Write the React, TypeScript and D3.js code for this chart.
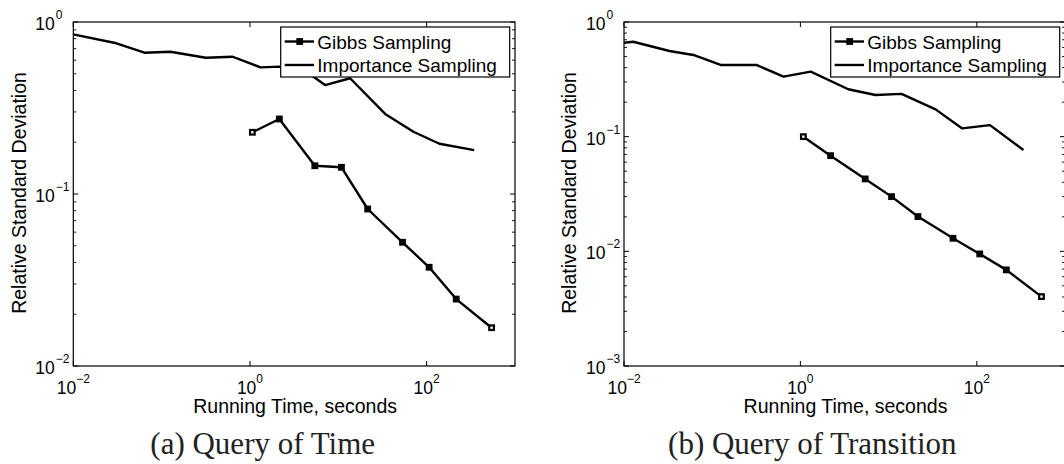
import React from "react";
import * as d3 from "d3";

// ---- Data ----
const leftImpX = [0.01, 0.0308, 0.0638, 0.1256, 0.316, 0.638, 1.315, 2.19, 4.55, 7.08, 13.6, 33.9, 70.8, 139.6, 345];
const leftImpY = [0.848, 0.752, 0.663, 0.672, 0.62, 0.628, 0.545, 0.55, 0.505, 0.43, 0.471, 0.292, 0.23, 0.196, 0.18];
const leftGibbsX = [1.064, 2.15, 5.42, 10.85, 21.5, 53.3, 106.7, 216, 543];
const leftGibbsY = [0.2285, 0.273, 0.146, 0.143, 0.0818, 0.0524, 0.0375, 0.0245, 0.0167];

const rightImpX = [0.01, 0.0127, 0.0328, 0.0612, 0.1245, 0.317, 0.644, 1.31, 3.49, 7.09, 14.0, 34.1, 68.3, 141, 338];
const rightImpY = [0.66, 0.673, 0.559, 0.516, 0.422, 0.422, 0.334, 0.369, 0.259, 0.231, 0.236, 0.173, 0.118, 0.126, 0.0766];
const rightGibbsX = [1.08, 2.2, 5.43, 10.8, 21.5, 53.7, 108, 216, 541];
const rightGibbsY = [0.1, 0.0683, 0.0428, 0.03, 0.0201, 0.013, 0.00949, 0.00689, 0.00403];

const xTickExps = [-2, 0, 2];
const leftYTickExps = [-2, -1, 0];
const rightYTickExps = [-3, -2, -1, 0];
const seriesNames = ["Gibbs Sampling", "Importance Sampling"];
const xLabel = "Running Time, seconds";
const yLabel = "Relative Standard Deviation";
const captions = ["(a) Query of Time", "(b) Query of Transition"];

const SANS = "'Liberation Sans', Arial, Helvetica, sans-serif";
const SERIF = "'Liberation Serif', 'Times New Roman', serif";

type PanelProps = {
  left: number;
  right: number;
  top: number;
  bottom: number;
  yMinExp: number;
  yTickExps: number[];
  impX: number[];
  impY: number[];
  gibbsX: number[];
  gibbsY: number[];
  caption: string;
  captionX: number;
};

function expLabel(e: number) {
  return e < 0 ? "\u2212" + Math.abs(e) : String(e);
}

function Panel(p: PanelProps) {
  const x = d3.scaleLog().domain([1e-2, 1e3]).range([p.left, p.right]);
  const y = d3.scaleLog().domain([Math.pow(10, p.yMinExp), 1]).range([p.bottom, p.top]);
  const line = d3
    .line<[number, number]>()
    .x((d) => x(d[0]))
    .y((d) => y(d[1]));
  const imp: [number, number][] = p.impX.map((v, i) => [v, p.impY[i]]);
  const gibbs: [number, number][] = p.gibbsX.map((v, i) => [v, p.gibbsY[i]]);

  // minor ticks on y
  const minor: number[] = [];
  for (let e = p.yMinExp; e < 0; e++) {
    for (let k = 2; k <= 9; k++) minor.push(k * Math.pow(10, e));
  }
  const majLen = 5;
  const minLen = 3;
  const axisW = 1.2;

  const legW = 229;
  const legH = 50;
  const legR = p.right - 5.3;
  const legL = legR - legW;
  const legT = p.top + 5;
  const ms = 6.8;

  const cx = (p.left + p.right) / 2;
  const cy = (p.top + p.bottom) / 2;

  return (
    <g>
      {/* data lines */}
      <path d={line(imp) || ""} fill="none" stroke="#000" strokeWidth={2.4} strokeLinejoin="round" />
      <path d={line(gibbs) || ""} fill="none" stroke="#000" strokeWidth={2.4} strokeLinejoin="round" />
      {gibbs.map((d, i) => {
        const end = i === 0 || i === gibbs.length - 1;
        return (
          <g key={i}>
            <rect x={x(d[0]) - ms / 2} y={y(d[1]) - ms / 2} width={ms} height={ms} fill="#000" />
            {end && <rect x={x(d[0]) - 1.2} y={y(d[1]) - 1.2} width={2.4} height={2.4} fill="#fff" />}
          </g>
        );
      })}

      {/* axes box */}
      <rect x={p.left} y={p.top} width={p.right - p.left} height={p.bottom - p.top} fill="none" stroke="#000" strokeWidth={axisW} />

      {/* x ticks (bottom and top) */}
      {xTickExps.map((e) => {
        const xx = x(Math.pow(10, e));
        return (
          <g key={"x" + e}>
            <line x1={xx} x2={xx} y1={p.bottom} y2={p.bottom - majLen} stroke="#000" strokeWidth={1} />
            <line x1={xx} x2={xx} y1={p.top} y2={p.top + majLen} stroke="#000" strokeWidth={1} />
            <text x={xx} y={p.bottom + 27.5} textAnchor="middle" fontFamily={SANS} fontSize={17.5} fill="#000">
              <tspan>10</tspan>
              <tspan dy={-11} fontSize={12}>{expLabel(e)}</tspan>
            </text>
          </g>
        );
      })}

      {/* y ticks */}
      {p.yTickExps.map((e) => {
        const yy = y(Math.pow(10, e));
        return (
          <g key={"y" + e}>
            <line x1={p.left} x2={p.left + majLen} y1={yy} y2={yy} stroke="#000" strokeWidth={1} />
            <line x1={p.right} x2={p.right - majLen} y1={yy} y2={yy} stroke="#000" strokeWidth={1} />
            <text x={p.left - 38} y={yy + 8} textAnchor="start" fontFamily={SANS} fontSize={17.5} fill="#000">
              <tspan>10</tspan>
              <tspan dx={1} dy={-11} fontSize={12}>{expLabel(e)}</tspan>
            </text>
          </g>
        );
      })}
      {minor.map((v, i) => {
        const yy = y(v);
        return (
          <g key={"m" + i}>
            <line x1={p.left} x2={p.left + minLen} y1={yy} y2={yy} stroke="#000" strokeWidth={0.9} />
            <line x1={p.right} x2={p.right - minLen} y1={yy} y2={yy} stroke="#000" strokeWidth={0.9} />
          </g>
        );
      })}

      {/* axis labels */}
      <text x={cx + 1} y={p.bottom + 47.3} textAnchor="middle" fontFamily={SANS} fontSize={19.5} fill="#000">
        {xLabel}
      </text>
      <text
        transform={`translate(${p.left - 47.8},${cy - 1}) rotate(-90)`}
        textAnchor="middle"
        fontFamily={SANS}
        fontSize={19.5}
        fill="#000"
      >
        {yLabel}
      </text>

      {/* legend */}
      <rect x={legL} y={legT} width={legW} height={legH} fill="#fff" stroke="#000" strokeWidth={1.2} />
      <line x1={legL + 4} x2={legL + 33.3} y1={legT + 14.5} y2={legT + 14.5} stroke="#000" strokeWidth={2.4} />
      <rect x={legL + 19 - ms / 2} y={legT + 14.5 - ms / 2} width={ms} height={ms} fill="#000" />
      <text x={legL + 36.6} y={legT + 21.7} fontFamily={SANS} fontSize={19} fill="#000">
        {seriesNames[0]}
      </text>
      <line x1={legL + 4} x2={legL + 33.3} y1={legT + 38} y2={legT + 38} stroke="#000" strokeWidth={2.4} />
      <text x={legL + 36.6} y={legT + 45} fontFamily={SANS} fontSize={19} fill="#000">
        {seriesNames[1]}
      </text>

      {/* caption */}
      <text x={p.captionX} y={453.5} textAnchor="middle" fontFamily={SERIF} fontSize={31} fill="#222">
        {p.caption}
      </text>
    </g>
  );
}

export default function App() {
  return (
    <svg
      width={1064}
      height={464}
      style={{ position: "absolute", left: 0, top: 0, background: "#fff", overflow: "hidden" }}
    >
      <rect x={0} y={0} width={1064} height={464} fill="#fff" />
      <Panel
        left={73.3}
        right={515}
        top={22}
        bottom={366}
        yMinExp={-2}
        yTickExps={leftYTickExps}
        impX={leftImpX}
        impY={leftImpY}
        gibbsX={leftGibbsX}
        gibbsY={leftGibbsY}
        caption={captions[0]}
        captionX={262.7}
      />
      <Panel
        left={624}
        right={1065}
        top={22}
        bottom={366}
        yMinExp={-3}
        yTickExps={rightYTickExps}
        impX={rightImpX}
        impY={rightImpY}
        gibbsX={rightGibbsX}
        gibbsY={rightGibbsY}
        caption={captions[1]}
        captionX={812.3}
      />
    </svg>
  );
}
